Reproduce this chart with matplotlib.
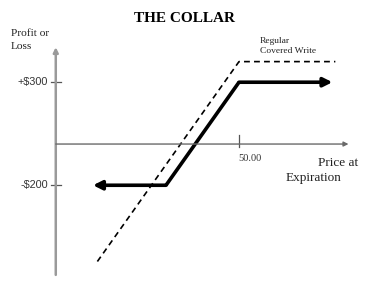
import matplotlib
matplotlib.use("Agg")
import matplotlib.pyplot as plt

# Payoff at expiration (price, profit in $)
collar_price = [40.0, 45.0, 50.0, 56.4]
collar_profit = [-200, -200, 300, 300]

covered_price = [40.3, 50.0, 56.6]
covered_profit = [-570, 400, 400]

tick_values = [300, -200]
tick_labels = ["+$300", "-$200"]
strike = 50.0
strike_label = "50.00"

fig = plt.figure(figsize=(3.92, 2.99), dpi=100)
ax = fig.add_axes([0, 0, 1, 1])
ax.set_xlim(33.63, 60.48)
ax.set_ylim(-752, 699)
ax.axis("off")

serif = "Liberation Serif"
sans = "Liberation Sans"

# Axes drawn as plain lines with arrowheads
x0 = 37.45
ax.annotate("", xy=(x0, 470), xytext=(x0, -635),
            arrowprops=dict(arrowstyle="-|>", color="#9a9a9a", lw=1.8,
                            mutation_scale=7, shrinkA=0, shrinkB=0))
ax.annotate("", xy=(57.5, 0), xytext=(x0, 0),
            arrowprops=dict(arrowstyle="-|>", color="#6a6a6a", lw=1.0,
                            mutation_scale=7, shrinkA=0, shrinkB=0))

# Y ticks
for v, lab in zip(tick_values, tick_labels):
    ax.plot([x0 - 0.35, x0 + 0.35], [v, v], color="#555555", lw=0.9)
    ax.text(x0 - 0.55, v, lab, ha="right", va="center", fontsize=7.8,
            family=sans, color="#333333")

# X tick at strike
ax.plot([strike, strike], [-15, 45], color="#555555", lw=0.9)
ax.text(strike - 0.05, -68, strike_label, ha="left", va="center",
        fontsize=7.5, family=serif, color="#333333")

# Covered write (dashed)
ax.plot(covered_price, covered_profit, color="black", lw=1.2,
        linestyle=(0, (3.5, 2.5)))

# Collar payoff (thick, arrow at both ends)
ax.plot(collar_price[1:3], collar_profit[1:3], color="black", lw=2.6,
        solid_capstyle="butt", solid_joinstyle="miter")
ax.annotate("", xy=(collar_price[0], collar_profit[0]),
            xytext=(collar_price[1], collar_profit[1]),
            arrowprops=dict(arrowstyle="-|>", color="black", lw=2.6,
                            mutation_scale=13, shrinkA=0, shrinkB=0))
ax.annotate("", xy=(collar_price[3], collar_profit[3]),
            xytext=(collar_price[2], collar_profit[2]),
            arrowprops=dict(arrowstyle="-|>", color="black", lw=2.6,
                            mutation_scale=13, shrinkA=0, shrinkB=0))

# Text labels
fig.text(185 / 392, 1 - 19 / 299, "THE COLLAR", ha="center", va="center",
         fontsize=11, fontweight="bold", family=serif)
fig.text(11 / 392, 1 - 40 / 299, "Profit or\nLoss", ha="left", va="center",
         fontsize=8.2, family=serif, linespacing=1.45, color="#222222")
fig.text(260 / 392, 1 - 46 / 299, "Regular\nCovered Write", ha="left",
         va="center", fontsize=6.8, family=serif, linespacing=1.45,
         color="#222222")
fig.text(318 / 392, 1 - 163 / 299, "Price at", ha="left", va="center",
         fontsize=9.5, family=serif, color="#222222")
fig.text(286 / 392, 1 - 178 / 299, "Expiration", ha="left", va="center",
         fontsize=9.5, family=serif, color="#222222")

fig.savefig("out.png", dpi=100, facecolor="white")
